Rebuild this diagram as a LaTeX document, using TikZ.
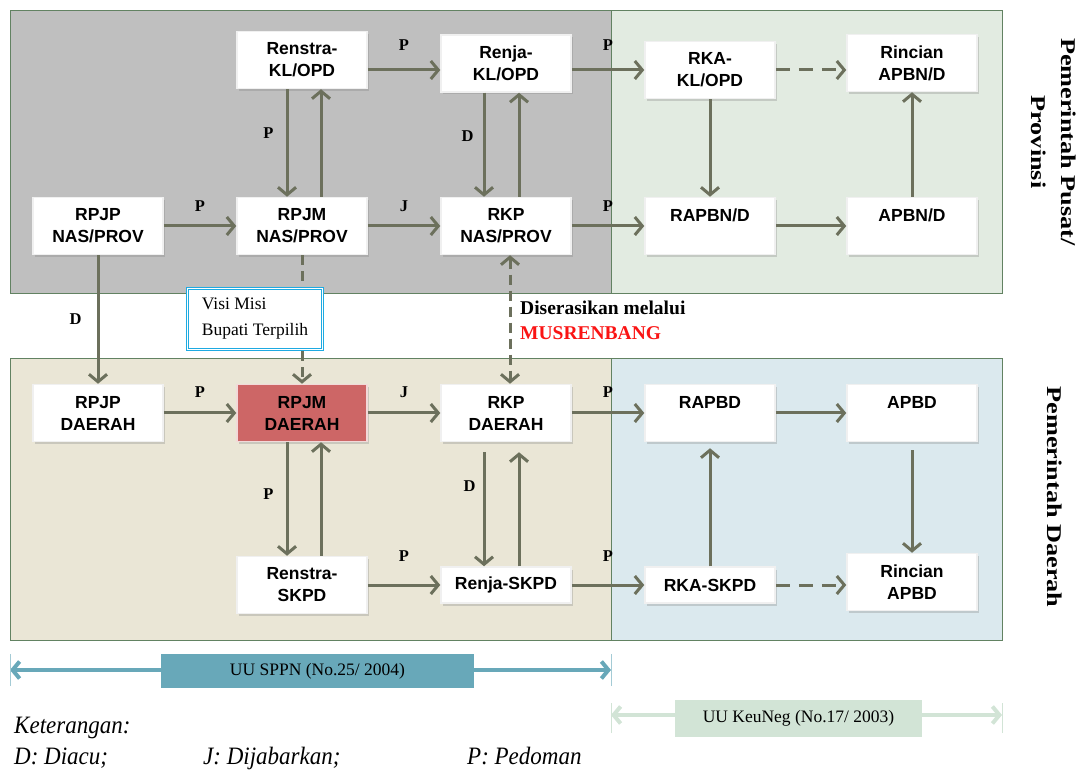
\documentclass[tikz,border=0pt]{standalone}
\usepackage{fontspec}
\usepackage{color}
\setmainfont{Liberation Serif}
\newfontfamily\boxfont{Liberation Sans}
\newfontfamily\sidefont[FakeStretch=1.25]{Liberation Serif}
\newfontfamily\ketfont[FakeStretch=0.92]{Liberation Serif}
\usetikzlibrary{positioning, shadows, arrows.meta}
\definecolor{panelgray}{RGB}{191,191,191}
\definecolor{panelgreen}{RGB}{226,235,225}
\definecolor{panelbeige}{RGB}{234,230,214}
\definecolor{panelblue}{RGB}{219,233,238}
\definecolor{panelline}{RGB}{98,130,98}
\definecolor{arrowgray}{RGB}{108,112,92}
\definecolor{boxred}{RGB}{205,102,102}
\definecolor{visiblue}{RGB}{30,170,225}
\definecolor{sppnteal}{RGB}{104,168,185}
\definecolor{keulight}{RGB}{210,228,214}
\definecolor{musred}{RGB}{250,20,20}

\begin{document}
\begin{tikzpicture}[x=1pt, y=1pt,
   every node/.style = {inner sep=0pt},
    node distance     = 107.5pt and 72.5pt,
         planNode/.style = {rectangle, align=center, fill=white, draw=black!6, line width=1.5pt,
                            minimum width=130pt, minimum height=57pt,
                            font=\boxfont\bfseries\fontsize{17.5}{22}\selectfont,
                            drop shadow={shadow xshift=1.5pt, shadow yshift=-2.5pt, opacity=0.3}},
         redNode/.style  = {planNode, fill=boxred, draw=white!75!boxred},
         flatNode/.style = {planNode, minimum height=36pt},
         visiNode/.style = {rectangle, align=left, fill=white, draw=visiblue, double=white, double distance=1.8pt,
                            line width=1pt, minimum width=135pt, minimum height=61pt,
                            font=\fontsize{17.5}{26}\selectfont},
         lawNode/.style  = {rectangle, minimum height=34pt, font=\fontsize{17.5}{20}\selectfont},
         lbl/.style      = {font=\bfseries\fontsize{16.5}{16.5}\selectfont},
         sideText/.style = {align=center, rotate=-90, font=\sidefont\bfseries\fontsize{21}{30}\selectfont},
         ketText/.style  = {anchor=base west, font=\ketfont\itshape\fontsize{25}{25}\selectfont},
         myarrow/.style  = {draw=arrowgray, line width=3pt, -{Straight Barb[length=7.5pt, width=18pt]}},
         myDashed/.style = {myarrow, dash pattern=on 14pt off 9pt},
         lawArrow/.style = {line width=4pt, {Straight Barb[length=7pt, width=17pt]}-{Straight Barb[length=7pt, width=17pt]}}
]
\useasboundingbox (0,0) rectangle (1083,769);

% panels
\filldraw[fill=panelgray, draw=panelline] (10,759) rectangle (611,476);
\filldraw[fill=panelgreen, draw=panelline] (611,759) rectangle (1002,476);
\filldraw[fill=panelbeige, draw=panelline] (10,411) rectangle (611,129);
\filldraw[fill=panelblue, draw=panelline] (611,411) rectangle (1002,129);

% pusat / provinsi
\node[planNode] (rpjpnas) at (98,543) {RPJP\\NAS/PROV};
\node[planNode, right=of rpjpnas] (rpjmnas) {RPJM\\NAS/PROV};
\node[planNode, right=of rpjmnas] (rkpnas) {RKP\\NAS/PROV};
\node[planNode, right=of rkpnas] (rapbn) {RAPBN/D\\~};
\node[planNode, right=of rapbn, xshift=-2pt] (apbn) {APBN/D\\~};

\node[planNode, above=of rpjmnas] (renstrakl) {Renstra-\\KL/OPD};
\node[planNode, right=of renstrakl, yshift=-3.5pt] (renjakl) {Renja-\\KL/OPD};
\node[planNode, right=of renjakl, yshift=-6.5pt] (rkakl) {RKA-\\KL/OPD};
\node[planNode, right=of rkakl, xshift=-2pt, yshift=7pt] (rincianapbn) {Rincian\\APBN/D};

% daerah
\node[planNode, below=128.5pt of rpjpnas] (rpjpdae) {RPJP\\DAERAH};
\node[redNode, right=of rpjpdae] (rpjmdae) {RPJM\\DAERAH};
\node[planNode, right=of rpjmdae] (rkpdae) {RKP\\DAERAH};
\node[planNode, right=of rkpdae] (rapbd) {RAPBD\\~};
\node[planNode, right=of rapbd, xshift=-2pt] (apbd) {APBD\\~};

\node[planNode, below=113.5pt of rpjmdae] (renstraskpd) {Renstra-\\SKPD};
\node[flatNode, right=of renstraskpd] (renjaskpd) {Renja-SKPD};
\node[flatNode, right=of renjaskpd] (rkaskpd) {RKA-SKPD};
\node[planNode, right=of rkaskpd, xshift=-2pt, yshift=3pt] (rincianapbd) {Rincian\\APBD};

\draw[myarrow] (rpjpnas) -- (rpjmnas) node[lbl, midway, above=13pt] {P};
\draw[myarrow] (rpjmnas) -- (rkpnas) node[lbl, midway, above=13pt] {J};
\draw[myarrow] (rkpnas) -- (rapbn) node[lbl, midway, above=13pt] {P};
\draw[myarrow] (rapbn) -- (apbn);
\draw[myarrow] (renstrakl.east |- rkakl) -- (renjakl.west |- rkakl) node[lbl, midway, above=18pt] {P};
\draw[myarrow] (renjakl.east |- rkakl) -- (rkakl) node[lbl, midway, above=18pt] {P};
\draw[myDashed] (rkakl) -- (rincianapbn.west |- rkakl);

\draw[myarrow] ([xshift=-15pt]renstrakl.south) -- ([xshift=-15pt]rpjmnas.north) node[lbl, pos=0.41, left=12pt] {P};
\draw[myarrow] ([xshift=19pt]rpjmnas.north) -- ([xshift=19pt]renstrakl.south);
\draw[myarrow] ([xshift=-22pt]renjakl.south) -- ([xshift=-22pt]rkpnas.north) node[lbl, pos=0.42, left=9pt] {D};
\draw[myarrow] ([xshift=13pt]rkpnas.north) -- ([xshift=13pt]renjakl.south);
\draw[myarrow] (rkakl) -- (rapbn);
\draw[myarrow] (apbn) -- (rincianapbn);
\draw[myarrow] (rpjpnas) -- (rpjpdae) node[lbl, midway, left=15pt] {D};

\draw[myDashed, dash pattern=on 10pt off 6pt] (rpjmnas) -- (rpjmdae);
\draw[myDashed, dash pattern=on 10pt off 6pt, {Straight Barb[length=7.5pt, width=18pt]}-{Straight Barb[length=7.5pt, width=18pt]}] ([xshift=4pt]rkpnas.south) -- ([xshift=4pt]rkpdae.north);

\node[visiNode] (visi) at (255,450) {Visi Misi\\Bupati Terpilih};
\node[anchor=west, align=left, font=\bfseries\fontsize{19.5}{25}\selectfont] (musren) at (520,449) {Diserasikan melalui\\\textcolor{musred}{MUSRENBANG}};

\draw[myarrow] (rpjpdae) -- (rpjmdae) node[lbl, midway, above=14pt] {P};
\draw[myarrow] (rpjmdae) -- (rkpdae) node[lbl, midway, above=14pt] {J};
\draw[myarrow] (rkpdae) -- (rapbd) node[lbl, midway, above=14pt] {P};
\draw[myarrow] (rapbd) -- (apbd);
\draw[myarrow] ([xshift=-15pt]rpjmdae.south) -- ([xshift=-15pt]renstraskpd.north) node[lbl, pos=0.46, left=12pt] {P};
\draw[myarrow] ([xshift=19pt]renstraskpd.north) -- ([xshift=19pt]rpjmdae.south);
\draw[myarrow, shorten <=10pt] ([xshift=-22pt]rkpdae.south) -- ([xshift=-22pt]renjaskpd.north) node[lbl, pos=0.35, left=7pt] {D};
\draw[myarrow, shorten >=10pt] ([xshift=13pt]renjaskpd.north) -- ([xshift=13pt]rkpdae.south);
\draw[myarrow] (renstraskpd) -- (renjaskpd) node[lbl, midway, above=22pt] {P};
\draw[myarrow] (renjaskpd) -- (rkaskpd) node[lbl, midway, above=22pt] {P};
\draw[myDashed] (rkaskpd) -- (rincianapbd.west |- rkaskpd);
\draw[myarrow, shorten >=6pt] (rkaskpd) -- (rapbd);
\draw[myarrow, shorten <=8pt] (apbd) -- (rincianapbd);

% undang-undang
\coordinate (sppnleft) at (10,99);
\coordinate (sppnright) at (611,99);
\draw[lawArrow, draw=sppnteal] (sppnleft) -- (sppnright);
\draw[sppnteal!60, line width=0.8pt] (10,83) -- (10,115) (611,83) -- (611,115);
\node[lawNode, fill=sppnteal, minimum width=313pt] (sppn) at (317.5,98) {UU SPPN (No.25/ 2004)};

\coordinate (keuleft) at (611,54);
\coordinate (keuright) at (1002,54);
\draw[lawArrow, draw=keulight] (keuleft) -- (keuright);
\draw[keulight, line width=0.8pt] (611,36) -- (611,66) (1002,36) -- (1002,66);
\node[lawNode, fill=keulight, minimum width=247pt, minimum height=37pt] (keuneg) at (798.5,50.5) {UU KeuNeg (No.17/ 2003)};

\node[sideText] (pusat) at (1054,627) {Pemerintah Pusat/\\Provinsi};
\node[sideText] (daerah) at (1055,272) {Pemerintah Daerah};

\node[ketText] (ket) at (14,36) {Keterangan:};
\node[ketText] (ketd) at (14,5) {D: Diacu;};
\node[ketText] (ketj) at (203,5) {J: Dijabarkan;};
\node[ketText] (ketp) at (467,5) {P: Pedoman};

\end{tikzpicture}
\end{document}
